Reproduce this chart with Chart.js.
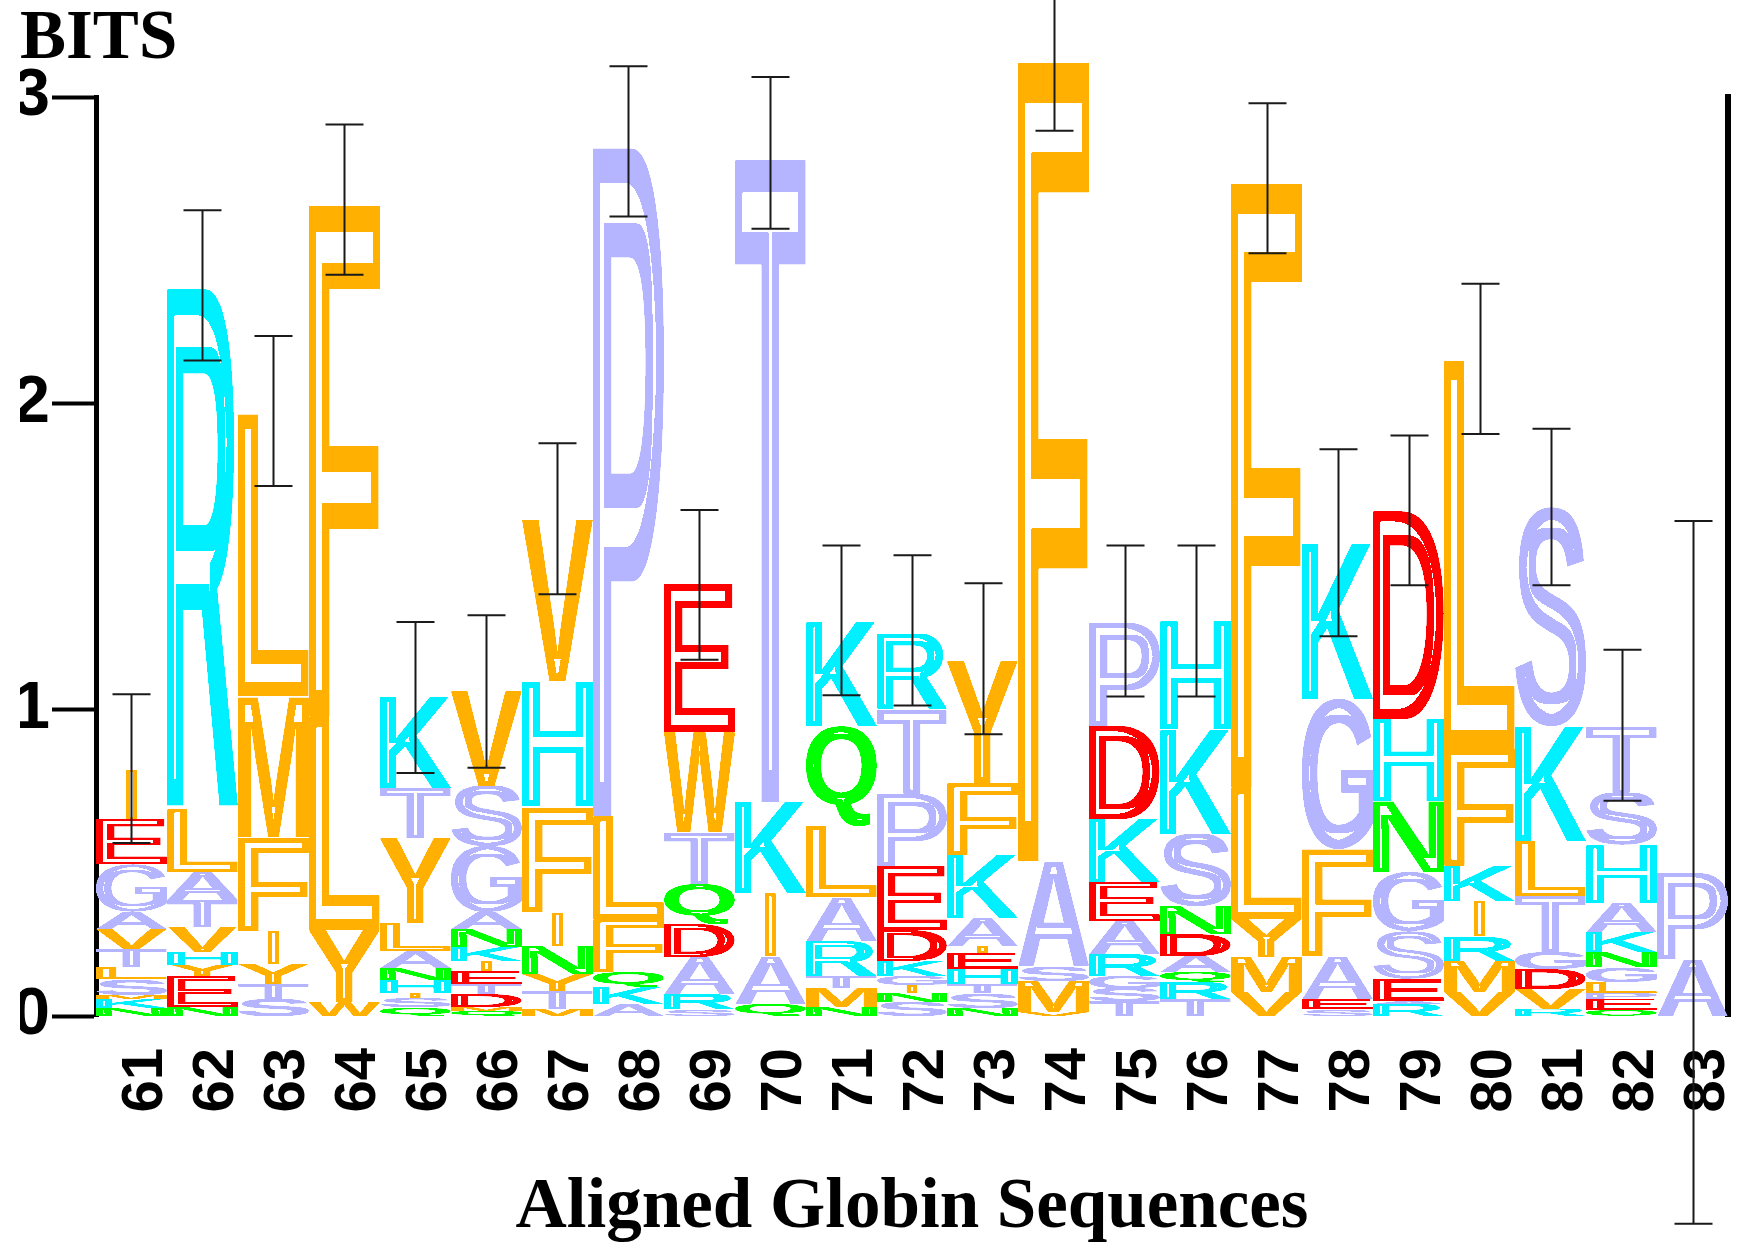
<!DOCTYPE html>
<html><head><meta charset="utf-8">
<script src="https://cdn.jsdelivr.net/npm/chart.js@4.4.1/dist/chart.umd.min.js"></script>
<style>html,body{margin:0;padding:0;background:#fff}</style>
</head><body>
<canvas id="c" width="1739" height="1247"></canvas>
<script>
// ---- DATA ----
const positions = ['61','62','63','64','65','66','67','68','69','70','71','72','73','74','75','76','77','78','79','80','81','82','83'];
// letters of each stack, bottom to top
const stackLetters = [
  'NKMSLTVAGEI', 'NEYHVTALR', 'STYIFML', 'WYLF', 'QSIHNALYTK', 'QMDTEIKNAGSV',
  'MTYNIFHV', 'AKQFLP', 'SRADQTWE', 'QAIKT', 'NMTRALQK', 'SNIGKDEPTR',
  'NSTHEIAKFY', 'VMSAF', 'TSGRAEKDP', 'TRQADNSKH', 'VMYLF', 'SEAFGK',
  'RAESGNHD', 'VMRIKFL', 'RVDGTLKS', 'QEPLGNKAHST', 'AP'
];
// letter heights in bits, bottom to top
const stackHeights = [
  [0.025,0.03,0.015,0.05,0.04,0.06,0.065,0.055,0.155,0.147,0.16],
  [0.03,0.10,0.035,0.045,0.08,0.09,0.09,0.206,1.70],
  [0.055,0.05,0.065,0.108,0.307,0.46,0.92],
  [0.045,0.235,0.70,1.68],
  [0.03,0.03,0.015,0.043,0.038,0.057,0.09,0.278,0.162,0.30],
  [0.015,0.015,0.042,0.033,0.042,0.033,0.045,0.06,0.055,0.216,0.194,0.31],
  [0.023,0.059,0.055,0.092,0.111,0.347,0.406,0.53],
  [0.04,0.055,0.049,0.173,0.337,2.2],
  [0.023,0.049,0.121,0.107,0.13,0.17,0.327,0.483],
  [0.04,0.156,0.204,0.30,2.115],
  [0.03,0.06,0.04,0.115,0.145,0.23,0.328,0.342],
  [0.045,0.03,0.025,0.03,0.05,0.1,0.21,0.236,0.272,0.25],
  [0.025,0.05,0.03,0.05,0.05,0.025,0.09,0.205,0.235,0.40],
  [0.013,0.1,0.05,0.344,2.63],
  [0.05,0.04,0.04,0.073,0.107,0.128,0.206,0.304,0.342],
  [0.056,0.054,0.034,0.052,0.072,0.092,0.235,0.343,0.352],
  [0.078,0.115,0.124,0.43,1.99],
  [0.023,0.033,0.14,0.35,0.49,0.507],
  [0.04,0.009,0.072,0.157,0.192,0.233,0.267,0.68],
  [0.078,0.102,0.08,0.116,0.114,0.383,1.267],
  [0.023,0.065,0.066,0.055,0.183,0.18,0.376,0.712],
  [0.02,0.035,0.02,0.035,0.049,0.049,0.066,0.095,0.189,0.17,0.216],
  [0.186,0.284]
];
const errTop    = [1.05,2.63,2.22,2.91,1.286,1.308,1.87,3.10,1.652,3.065,1.536,1.504,1.413,3.385,1.536,1.536,2.98,1.85,1.895,2.39,1.917,1.196,1.616];
const errBottom = [0.565,2.14,1.73,2.42,0.793,0.81,1.377,2.61,1.163,2.57,1.047,1.014,0.92,2.89,1.043,1.043,2.49,1.24,1.406,1.90,1.406,0.703,-0.678];
const yTitle = 'BITS';
const xTitle = 'Aligned Globin Sequences';

// ---- STYLE ----
const COLORS = {
  orange: [255,176,0], cyan: [0,240,255], red: [255,0,0], green: [0,255,0], lav: [180,180,255]
};
const letterGroup = {F:'orange',L:'orange',I:'orange',M:'orange',V:'orange',W:'orange',Y:'orange',C:'orange',
  K:'cyan',R:'cyan',H:'cyan', D:'red',E:'red', N:'green',Q:'green',
  A:'lav',G:'lav',S:'lav',T:'lav',P:'lav'};
const LETTER_FONT = 'bold 200px "Liberation Sans", Arial, Helvetica, sans-serif';

function drawLetter(ctx, ch, x0, y0, x1, y1) {
  const w = x1 - x0, h = y1 - y0;
  if (w < 1 || h < 1) return;
  const c = document.createElement('canvas'); c.width = w; c.height = h;
  const g = c.getContext('2d');
  g.font = LETTER_FONT;
  const m = g.measureText(ch);
  let l = -m.actualBoundingBoxLeft, r = m.actualBoundingBoxRight;
  const t = -m.actualBoundingBoxAscent, b = m.actualBoundingBoxDescent;
  if (ch === 'I') { const cx = (l + r) / 2, full = (r - l) / 0.15; l = cx - full / 2; r = cx + full / 2; }
  const sx = w / (r - l), sy = h / (b - t);
  g.setTransform(sx, 0, 0, sy, -l * sx, -t * sy);
  g.fillStyle = '#000';
  g.fillText(ch, 0, 0);
  g.setTransform(1, 0, 0, 1, 0, 0);
  const im = g.getImageData(0, 0, w, h), d = im.data, n = w * h;
  const ins = new Uint8Array(n);
  for (let p = 0; p < n; p++) ins[p] = d[p * 4 + 3] > 110 ? 1 : 0;
  const rx = ch === 'I' ? 4 : Math.max(2, Math.round(0.1 * w));
  const ry = Math.max(2, Math.round(0.05 * h));
  const hx = new Uint8Array(n);
  const run = new Int32Array(Math.max(w, h));
  for (let y = 0; y < h; y++) {
    let cnt = 0;
    for (let x = 0; x < w; x++) { cnt = ins[y * w + x] ? cnt + 1 : 0; run[x] = cnt; }
    cnt = 0;
    for (let x = w - 1; x >= 0; x--) {
      cnt = ins[y * w + x] ? cnt + 1 : 0;
      hx[y * w + x] = (run[x] > rx && cnt > rx) ? 1 : 0;
    }
  }
  const er = new Uint8Array(n);
  for (let x = 0; x < w; x++) {
    let cnt = 0;
    for (let y = 0; y < h; y++) { cnt = hx[y * w + x] ? cnt + 1 : 0; run[y] = cnt; }
    cnt = 0;
    for (let y = h - 1; y >= 0; y--) {
      cnt = hx[y * w + x] ? cnt + 1 : 0;
      er[y * w + x] = (run[y] > ry && cnt > ry) ? 1 : 0;
    }
  }
  const col = COLORS[letterGroup[ch] || 'lav'];
  for (let p = 0; p < n; p++) {
    const a = d[p * 4 + 3];
    if (a > 0 && !er[p]) { d[p*4] = col[0]; d[p*4+1] = col[1]; d[p*4+2] = col[2]; d[p*4+3] = a > 110 ? 255 : a; }
    else d[p * 4 + 3] = 0;
  }
  g.putImageData(im, 0, 0);
  ctx.drawImage(c, x0, y0);
}

const logoPlugin = {
  id: 'logo',
  afterDatasetsDraw(chart) {
    const ctx = chart.ctx;
    ctx.save();
    chart.data.datasets.forEach((ds, k) => {
      const meta = chart.getDatasetMeta(k);
      meta.data.forEach((bar, i) => {
        const ch = stackLetters[i][k];
        if (!ch) return;
        const p = bar.getProps(['x', 'y', 'base', 'width'], true);
        const x0 = Math.round(p.x - p.width / 2), x1 = Math.round(p.x + p.width / 2);
        const y0 = Math.round(Math.min(p.y, p.base)), y1 = Math.round(Math.max(p.y, p.base));
        drawLetter(ctx, ch, x0, y0, x1, y1);
      });
    });
    const xs = chart.scales.x, ys = chart.scales.y;
    ctx.strokeStyle = '#1a1a1a';
    ctx.lineWidth = 2;
    positions.forEach((pos, i) => {
      const x = Math.round(xs.getPixelForValue(i)) + 0.5;
      const yt = ys.getPixelForValue(errTop[i]), yb = ys.getPixelForValue(errBottom[i]);
      ctx.beginPath();
      ctx.moveTo(x, yt); ctx.lineTo(x, yb);
      ctx.moveTo(x - 19, yt); ctx.lineTo(x + 19, yt);
      ctx.moveTo(x - 19, yb); ctx.lineTo(x + 19, yb);
      ctx.stroke();
    });
    ctx.restore();
  }
};

const maxLayers = Math.max(...stackLetters.map(s => s.length));
const datasets = [];
for (let k = 0; k < maxLayers; k++) {
  datasets.push({
    label: 'layer ' + k,
    data: stackHeights.map(hs => hs[k] !== undefined ? hs[k] : null),
    backgroundColor: 'rgba(0,0,0,0)',
    borderWidth: 0,
    barPercentage: 1,
    categoryPercentage: 1,
    stack: 'logo'
  });
}

const sansBold = '"Liberation Sans", Arial, Helvetica, sans-serif';
const serifBold = '"Liberation Serif", "Times New Roman", Times, serif';

new Chart(document.getElementById('c'), {
  type: 'bar',
  data: { labels: positions, datasets },
  options: {
    responsive: false,
    animation: false,
    devicePixelRatio: 1,
    layout: { padding: { left: 20, right: 8, top: 0, bottom: 0 } },
    plugins: {
      legend: { display: false },
      tooltip: { enabled: false },
      title: {
        display: true, text: yTitle, align: 'start', color: '#000',
        font: { family: serifBold, weight: 'bold', size: 69, lineHeight: 1 },
        padding: { top: 6, bottom: 22 }
      }
    },
    scales: {
      x: {
        stacked: true,
        grid: { display: false, drawTicks: false },
        border: { display: false },
        ticks: {
          autoSkip: false, maxRotation: 90, minRotation: 90, padding: 32, labelOffset: 15,
          color: '#000', font: { family: sansBold, weight: 'bold', size: 58 }
        },
        title: {
          display: true, text: xTitle, color: '#000',
          font: { family: serifBold, weight: 'bold', size: 71, lineHeight: 1 },
          padding: { top: 0, bottom: 3 }
        },
        afterFit(s) { s.height = 231; s.paddingLeft = 0; s.paddingRight = 0; }
      },
      y: {
        stacked: true, min: 0, max: 3, position: 'left',
        ticks: { stepSize: 1, padding: 2, color: '#000', font: { family: sansBold, weight: 'bold', size: 67 } },
        grid: { drawOnChartArea: false, drawTicks: true, tickLength: 44, tickWidth: 4, tickColor: '#000' },
        border: { display: true, width: 5, color: '#000' },
        afterFit(s) { s.width = 76; }
      },
      y2: {
        position: 'right', min: 0, max: 3,
        ticks: { display: false },
        grid: { drawOnChartArea: false, drawTicks: false },
        border: { display: true, width: 6, color: '#000' },
        afterFit(s) { s.width = 3; s.paddingTop = 0; s.paddingBottom = 0; }
      }
    }
  },
  plugins: [logoPlugin]
});
</script>
</body></html>
